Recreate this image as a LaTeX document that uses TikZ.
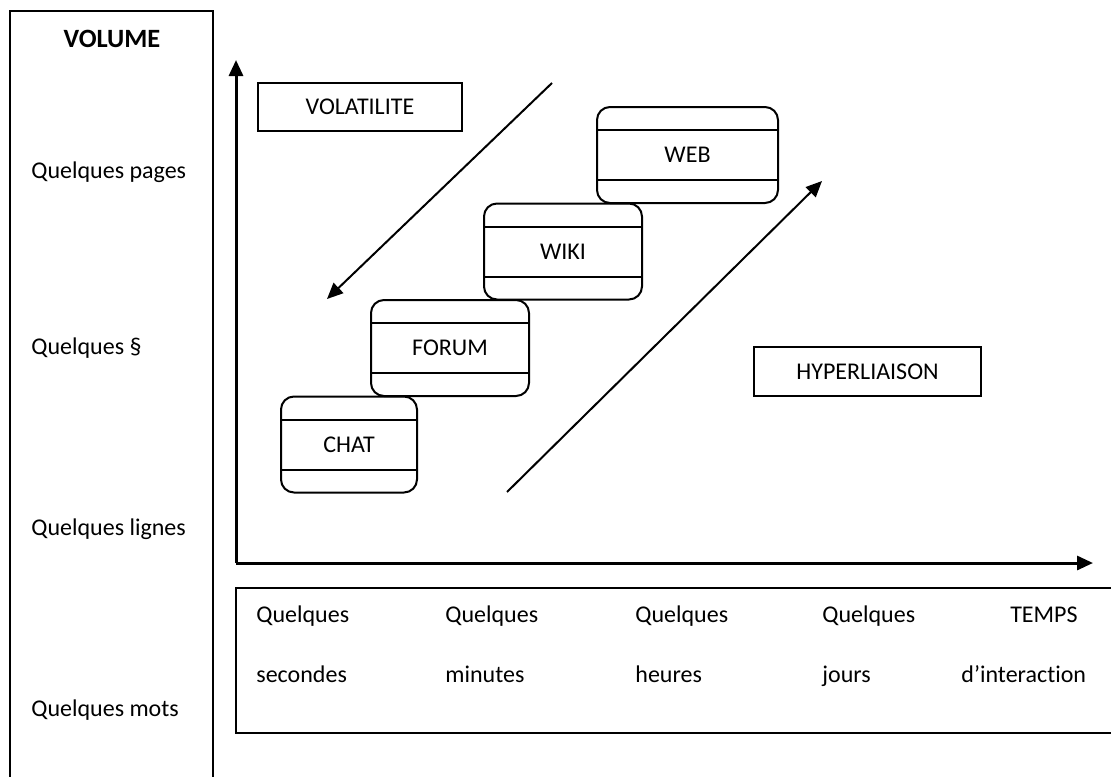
\documentclass[tikz,border=0pt]{standalone}
\usepackage{fontspec}
\setmainfont{Carlito}[Ligatures=NoCommon]
\usetikzlibrary{arrows.meta}

\begin{document}
\begin{tikzpicture}[x=0.5pt,y=-0.5pt,
    every node/.style={font=\fontsize{12}{14}\selectfont},
    cadre/.style={draw,line width=1pt,inner sep=0pt},
    outil/.style={draw,line width=1pt,rounded corners=6.5pt,inner sep=0pt,minimum height=48pt},
    etiquette/.style={inner sep=0pt,anchor=base west},
    axe/.style={line width=1.5pt,-{Triangle[length=8pt,width=7pt]}},
    fleche/.style={line width=1pt,-{Triangle[length=8pt,width=7pt]}}]
    \useasboundingbox (0,0) rectangle (1111,776);
    \clip (0,0) rectangle (1111,776);
    % colonne du volume
    \node[cadre,minimum width=101.5pt,minimum height=394.5pt] (volume) at (111.5,405.5) {};
    \node[inner sep=0pt,anchor=base,font=\fontsize{13.2}{15}\selectfont\bfseries] (titrevol) at (112,47) {VOLUME};
    \foreach \n/\y/\t in {pages/178/Quelques pages,para/354/Quelques \S,lignes/535/Quelques lignes,mots/716/Quelques mots}{%
        \node[etiquette] (\n) at (31,\y) {\t};
    }%
    % axes
    \coordinate (origine) at (236,563);
    \coordinate (haut) at (236,60);
    \coordinate (droite) at (1093,563);
    \draw[axe] (origine) -- (haut);
    \draw[axe] (origine) -- (droite);
    % echelle du temps
    \node[cadre,minimum width=447pt,minimum height=72.5pt] (temps) at (683,660.5) {};
    \foreach \x/\a/\b in {256/Quelques/secondes,445/Quelques/minutes,635/Quelques/heures,822/Quelques/jours}{%
        \node[etiquette] (h\x) at (\x,622) {\a};
        \node[etiquette] (b\x) at (\x,682) {\b};
    }%
    \node[etiquette,anchor=base east] (htemps) at (1078,622) {TEMPS};
    \node[etiquette] (btemps) at (961,682) {d’interaction};
    % outils
    \foreach \nom/\txt/\cx/\cy/\w in {chat/CHAT/349/444.5/136,forum/FORUM/450/348/158,wiki/WIKI/563/251.5/158,web/WEB/687.5/155/181}{%
        \node[outil,minimum width=\w*0.5pt] (\nom) at (\cx,\cy) {\txt};
        \draw[line width=1pt] ([yshift=-12pt]\nom.north west) -- ([yshift=-12pt]\nom.north east);
        \draw[line width=1pt] ([yshift=12pt]\nom.south west) -- ([yshift=12pt]\nom.south east);
    }%
    \node[cadre,minimum width=102pt,minimum height=24pt] (volatilite) at (360,107) {VOLATILITE};
    \node[cadre,minimum width=113.5pt,minimum height=24.5pt] (hyper) at (867.5,371.5) {HYPERLIAISON};
    % tendances
    \coordinate (vdebut) at (552,83);
    \coordinate (vfin) at (327,299);
    \coordinate (hdebut) at (507,492);
    \coordinate (hfin) at (822,181);
    \draw[fleche] (vdebut) -- (vfin);
    \draw[fleche] (hdebut) -- (hfin);
\end{tikzpicture}
\end{document}
